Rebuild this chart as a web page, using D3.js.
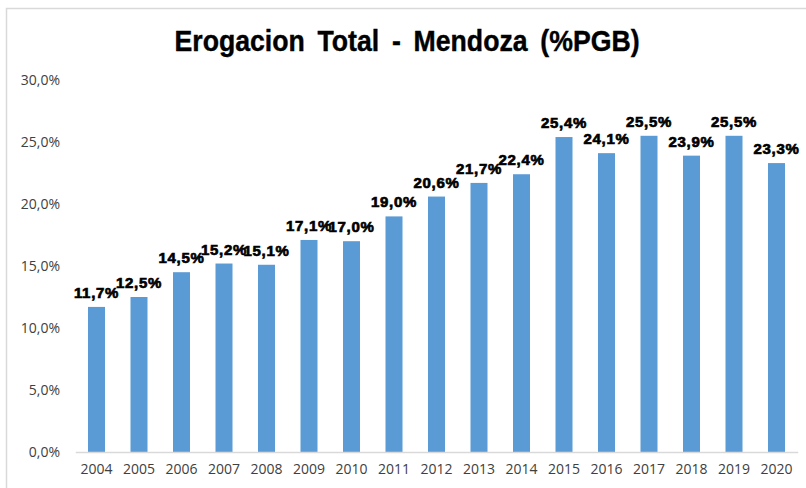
<!DOCTYPE html>
<html><head><meta charset="utf-8">
<script src="https://cdn.jsdelivr.net/npm/d3@7/dist/d3.min.js"></script>
<style>body{margin:0;background:#fff;}svg{display:block;}</style>
</head><body>
<script>
const years = ["2004","2005","2006","2007","2008","2009","2010","2011","2012","2013","2014","2015","2016","2017","2018","2019","2020"];
const values = [11.7,12.5,14.5,15.2,15.1,17.1,17.0,19.0,20.6,21.7,22.4,25.4,24.1,25.5,23.9,25.5,23.3];
const yTicks = [0,5,10,15,20,25,30];
const title = "Erogacion Total - Mendoza (%PGB)";

const W = 806, H = 488;
const svg = d3.select("body").append("svg").attr("width", W).attr("height", H);
svg.append("rect").attr("width", W).attr("height", H).attr("fill", "#fff");
svg.append("path").attr("d", `M6.5,${H} V8.5 H${W}`).attr("fill","none").attr("stroke","#d9d9d9").attr("stroke-width",1.5);

const x = d3.scaleBand().domain(years).range([75.25, 797.75]).paddingInner(0.6).paddingOuter(0.3);
const y = d3.scaleLinear().domain([0,30]).range([452, 80]);

const fmt = v => d3.format(".1f")(v).replace(".", ",") + "%";

svg.append("text").attr("x", 407).attr("y", 51).attr("text-anchor","middle")
  .attr("font-family","Liberation Sans, Arial, sans-serif").attr("font-weight","bold")
  .attr("font-size", 30).attr("word-spacing", 6).attr("textLength", 465).attr("lengthAdjust","spacingAndGlyphs")
  .attr("fill","#000").attr("stroke","#000").attr("stroke-width",0.4).text(title);

const yAxis = d3.axisLeft(y).tickValues(yTicks).tickFormat(fmt).tickSize(0).tickPadding(0);
const gy = svg.append("g").attr("transform","translate(60,0)").call(yAxis);
gy.select(".domain").remove();
gy.selectAll("text").attr("font-family","Open Sans, sans-serif").attr("font-size",14).attr("fill","#404040").attr("dy","0.35em");

svg.selectAll("rect.bar").data(values).join("rect").attr("class","bar")
  .attr("x",(d,i)=>x(years[i])).attr("width",x.bandwidth())
  .attr("y",d=>y(d)).attr("height",d=>y(0)-y(d)).attr("fill","#5B9BD5");

const xAxis = d3.axisBottom(x).tickSize(0).tickPadding(12);
const gx = svg.append("g").attr("transform","translate(0,452)").call(xAxis);
gx.select(".domain").attr("stroke","#d9d9d9").attr("stroke-width",1.5);
gx.selectAll("text").attr("font-family","Open Sans, sans-serif").attr("font-size",14).attr("fill","#404040");

svg.selectAll("text.lbl").data(values).join("text").attr("class","lbl")
  .attr("x",(d,i)=>x(years[i])+x.bandwidth()/2).attr("y",d=>y(d)-9)
  .attr("text-anchor","middle").attr("font-family","Liberation Sans, Arial, sans-serif")
  .attr("font-weight","bold").attr("font-size",15).attr("fill","#000")
  .attr("stroke","#000").attr("stroke-width",0.7).attr("letter-spacing",0.7)
  .text(d=>fmt(d));
</script>
</body></html>
